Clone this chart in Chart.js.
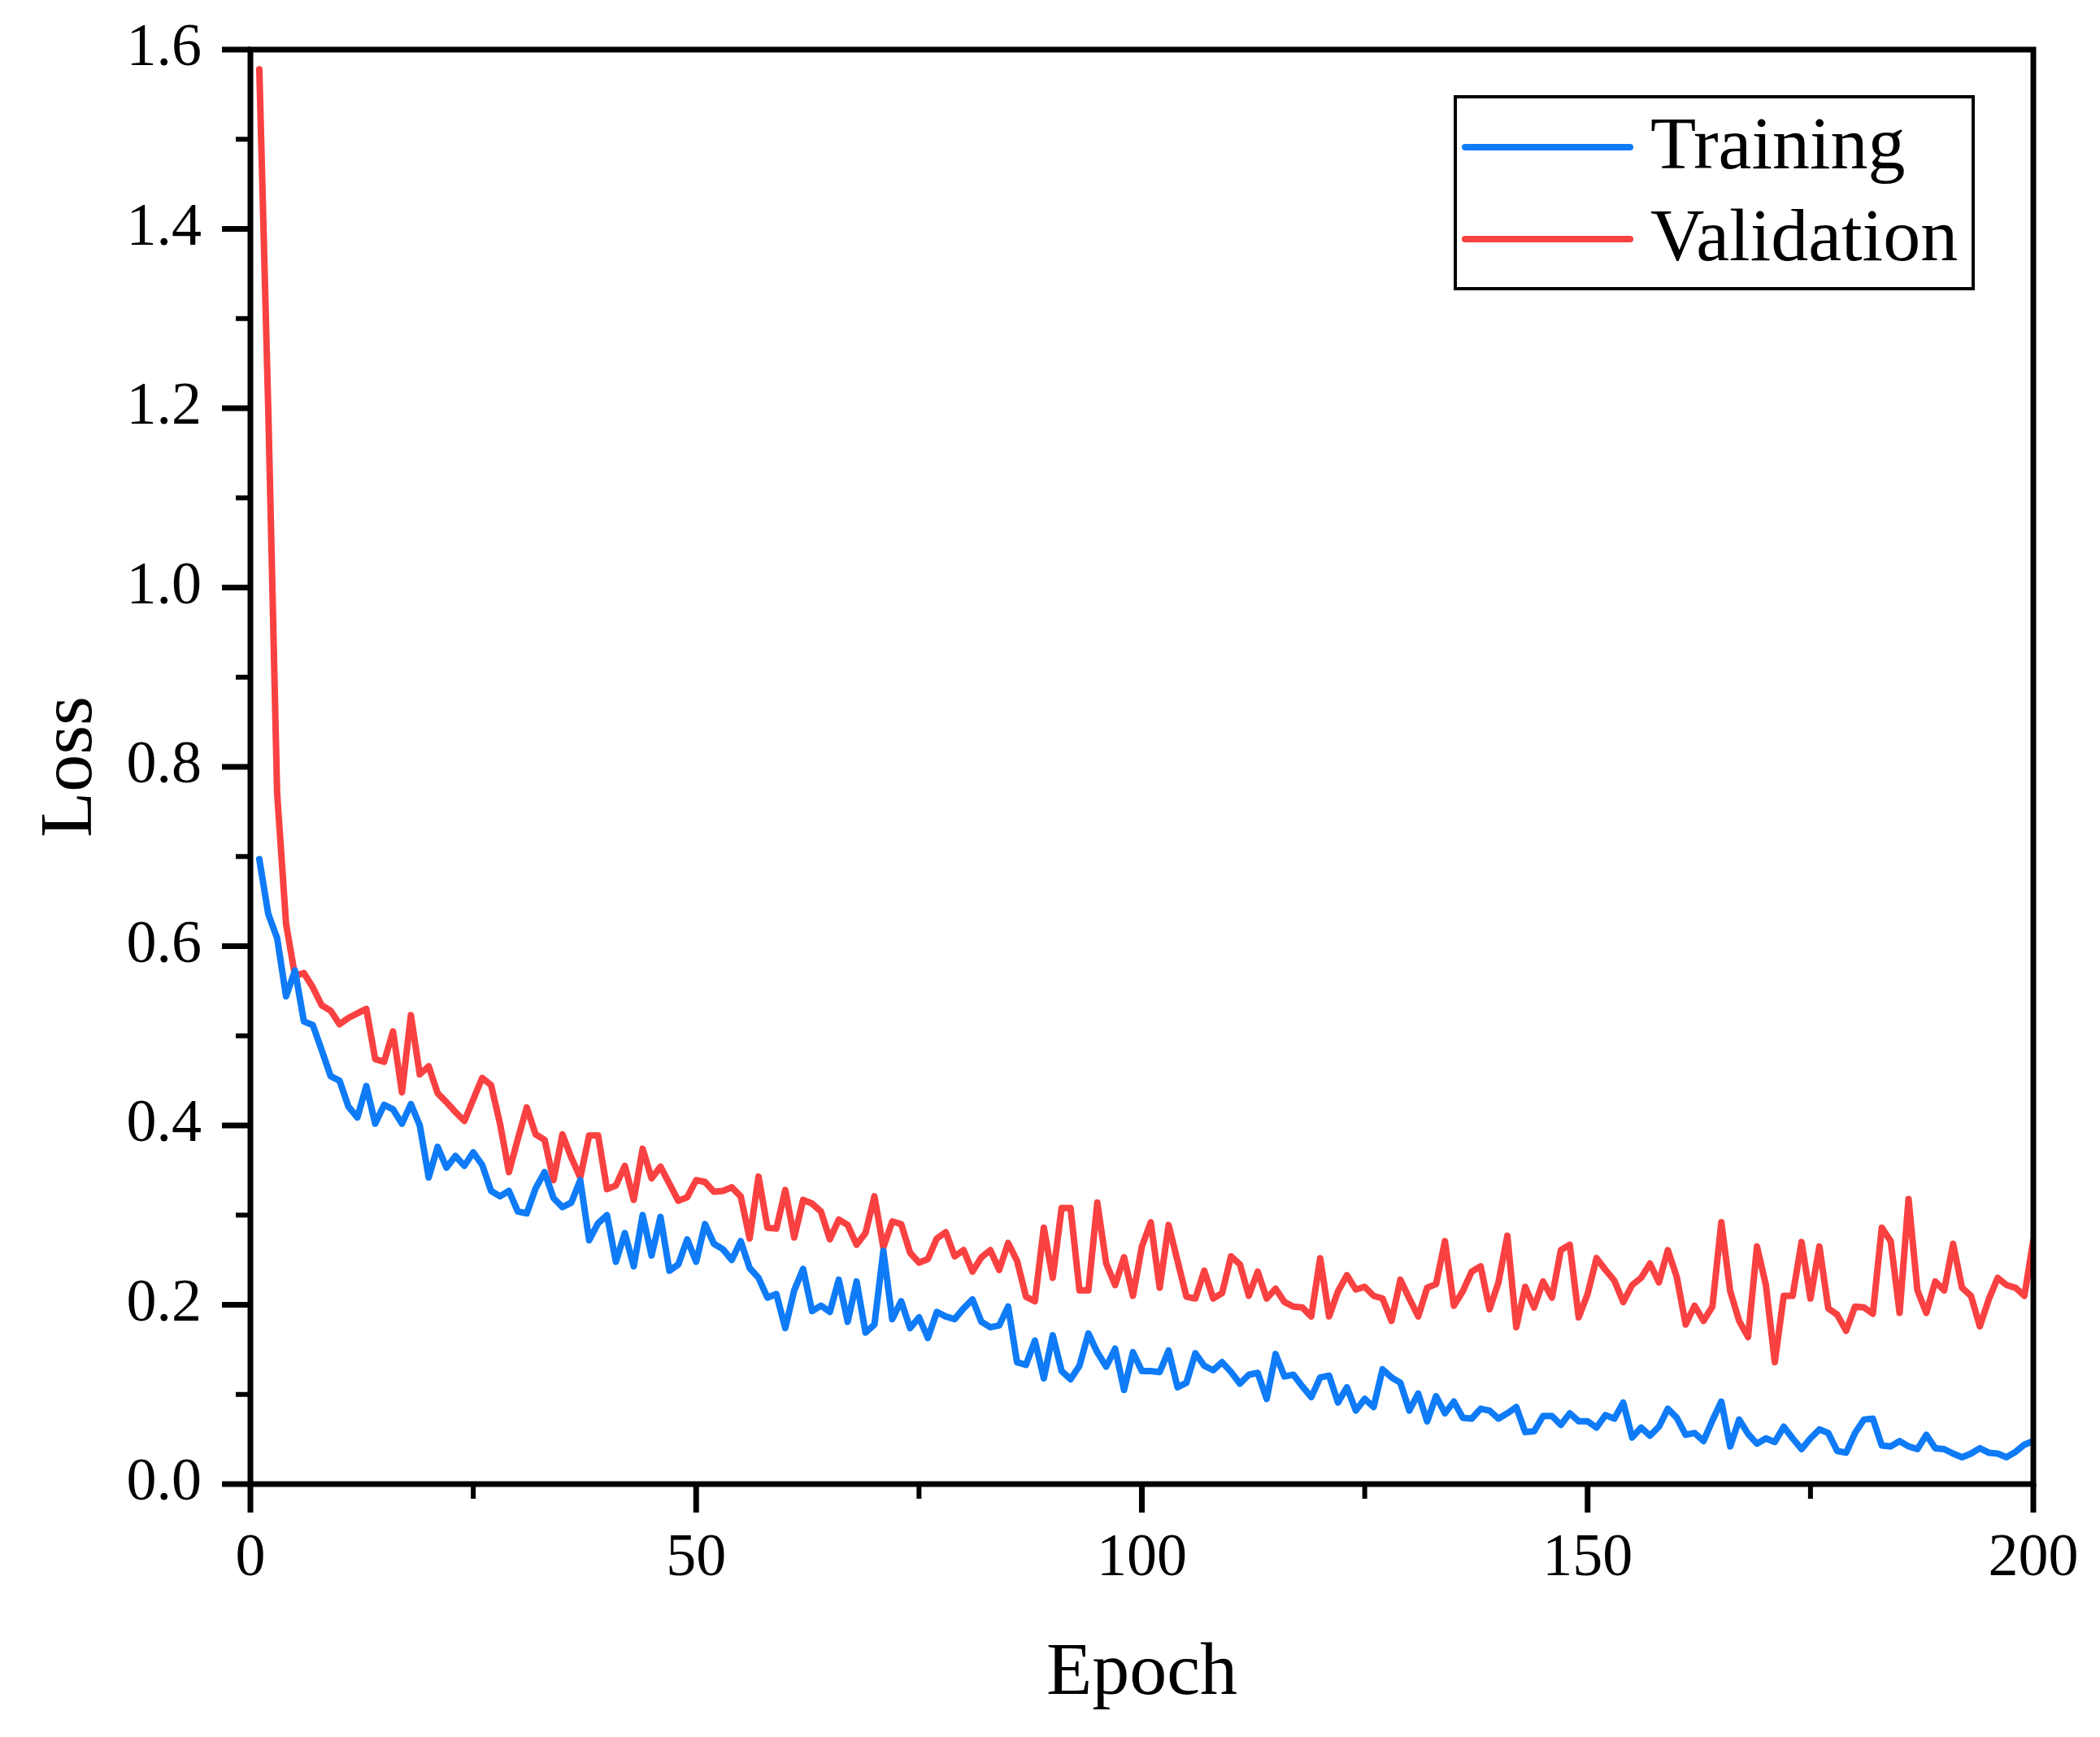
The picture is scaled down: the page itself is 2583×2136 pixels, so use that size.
<!DOCTYPE html>
<html><head><meta charset="utf-8">
<script src="https://cdn.jsdelivr.net/npm/chart.js@4.4.1/dist/chart.umd.min.js"></script>
<style>html,body{margin:0;padding:0;background:#fff;}canvas{display:block;}</style>
</head><body>
<canvas id="c" width="2583" height="2136" style="width:2583px;height:2136px"></canvas>
<script>
const epochs = Array.from({length: 200}, (_, i) => i + 1);

const training = [
0.697,0.636,0.609,0.544,0.573,0.516,0.512,0.484,0.455,0.450,
0.421,0.409,0.444,0.402,0.423,0.418,0.402,0.424,0.400,0.342,
0.376,0.353,0.366,0.355,0.370,0.356,0.327,0.321,0.327,0.304,
0.302,0.330,0.348,0.319,0.309,0.314,0.339,0.272,0.291,0.300,
0.248,0.280,0.243,0.300,0.255,0.298,0.238,0.245,0.273,0.248,
0.290,0.268,0.262,0.250,0.271,0.241,0.230,0.208,0.212,0.174,
0.216,0.240,0.193,0.199,0.192,0.228,0.181,0.226,0.169,0.178,
0.260,0.184,0.204,0.174,0.186,0.163,0.192,0.187,0.184,0.196,
0.206,0.181,0.175,0.177,0.198,0.136,0.133,0.160,0.118,0.166,
0.126,0.117,0.132,0.168,0.147,0.131,0.151,0.105,0.147,0.126,
0.126,0.125,0.149,0.108,0.113,0.146,0.132,0.127,0.136,0.125,
0.112,0.122,0.124,0.095,0.145,0.120,0.122,0.109,0.097,0.119,
0.121,0.091,0.108,0.082,0.095,0.086,0.128,0.119,0.113,0.082,
0.101,0.070,0.098,0.079,0.092,0.074,0.073,0.084,0.082,0.073,
0.079,0.086,0.058,0.059,0.076,0.076,0.066,0.079,0.070,0.070,
0.063,0.077,0.073,0.091,0.052,0.063,0.054,0.064,0.084,0.074,
0.055,0.057,0.048,0.071,0.092,0.042,0.072,0.056,0.045,0.051,
0.047,0.064,0.051,0.039,0.051,0.061,0.057,0.037,0.035,0.057,
0.072,0.073,0.043,0.042,0.048,0.042,0.039,0.055,0.040,0.039,
0.034,0.030,0.034,0.040,0.035,0.034,0.030,0.036,0.044,0.048
];

const validation = [
1.578,1.200,0.770,0.625,0.567,0.570,0.554,0.534,0.528,0.513,
0.520,0.525,0.530,0.474,0.471,0.505,0.437,0.523,0.457,0.466,
0.436,0.426,0.415,0.405,0.429,0.453,0.445,0.402,0.348,0.385,
0.420,0.390,0.384,0.339,0.390,0.364,0.342,0.389,0.389,0.329,
0.333,0.355,0.317,0.374,0.341,0.354,0.335,0.316,0.320,0.339,
0.337,0.326,0.327,0.331,0.321,0.274,0.343,0.286,0.285,0.328,
0.275,0.317,0.313,0.304,0.273,0.295,0.289,0.267,0.280,0.321,
0.264,0.293,0.290,0.258,0.247,0.251,0.274,0.281,0.254,0.261,
0.237,0.253,0.261,0.239,0.269,0.249,0.209,0.204,0.286,0.230,
0.308,0.308,0.216,0.216,0.314,0.246,0.222,0.253,0.210,0.265,
0.292,0.219,0.289,0.249,0.209,0.207,0.238,0.207,0.213,0.254,
0.245,0.210,0.237,0.207,0.218,0.203,0.198,0.197,0.187,0.252,
0.187,0.215,0.233,0.217,0.220,0.210,0.207,0.182,0.228,0.207,
0.187,0.219,0.223,0.271,0.199,0.215,0.237,0.243,0.195,0.225,
0.277,0.175,0.220,0.197,0.226,0.208,0.261,0.267,0.186,0.212,
0.252,0.239,0.227,0.203,0.222,0.230,0.246,0.225,0.261,0.231,
0.178,0.199,0.182,0.198,0.292,0.215,0.182,0.164,0.265,0.222,
0.136,0.210,0.210,0.270,0.207,0.265,0.196,0.189,0.171,0.198,
0.197,0.190,0.286,0.271,0.191,0.318,0.216,0.191,0.226,0.216,
0.268,0.219,0.210,0.176,0.206,0.230,0.222,0.219,0.210,0.272
];

const xMajorTicks = [0, 50, 100, 150, 200];
const xMinorTicks = [25, 75, 125, 175];
const yMajorTicks = [0, 0.2, 0.4, 0.6, 0.8, 1.0, 1.2, 1.4, 1.6];
const yMinorTicks = [0.1, 0.3, 0.5, 0.7, 0.9, 1.1, 1.3, 1.5];

const seriesNames = ['Training', 'Validation'];
const seriesColors = ['#0F7BF7', '#F94141'];

const FONT = "'Liberation Serif', 'Times New Roman', serif";

function noPad(s) { s.paddingTop = 0; s.paddingBottom = 0; s.paddingLeft = 0; s.paddingRight = 0; }

const framePlugin = {
  id: 'frame',
  afterDraw(chart) {
    const {ctx, chartArea: a, scales: {x, y}} = chart;
    ctx.save();
    ctx.strokeStyle = '#000';
    ctx.lineCap = 'butt';
    ctx.lineWidth = 7;
    ctx.beginPath();
    yMajorTicks.forEach(v => { const p = y.getPixelForValue(v); ctx.moveTo(a.left, p); ctx.lineTo(a.left - 35, p); });
    xMajorTicks.forEach(v => { const p = x.getPixelForValue(v); ctx.moveTo(p, a.bottom); ctx.lineTo(p, a.bottom + 35); });
    ctx.stroke();
    ctx.lineWidth = 6;
    ctx.beginPath();
    yMinorTicks.forEach(v => { const p = y.getPixelForValue(v); ctx.moveTo(a.left, p); ctx.lineTo(a.left - 18, p); });
    xMinorTicks.forEach(v => { const p = x.getPixelForValue(v); ctx.moveTo(p, a.bottom); ctx.lineTo(p, a.bottom + 18); });
    ctx.stroke();
    ctx.lineWidth = 7;
    ctx.strokeRect(a.left, a.top, a.right - a.left, a.bottom - a.top);

    // legend
    const boxL = 1790, boxT = 119, boxR = 2427, boxB = 355;
    ctx.lineWidth = 4;
    ctx.strokeRect(boxL, boxT, boxR - boxL, boxB - boxT);
    const rows = [183, 296];
    chart.data.datasets.forEach((ds, i) => {
      ctx.strokeStyle = ds.borderColor;
      ctx.lineWidth = 8;
      ctx.lineCap = 'round';
      ctx.beginPath();
      ctx.moveTo(1802, rows[i] - 2);
      ctx.lineTo(2005, rows[i] - 2);
      ctx.stroke();
      ctx.fillStyle = '#000';
      ctx.font = '92px ' + FONT;
      ctx.textAlign = 'left';
      ctx.textBaseline = 'middle';
      ctx.fillText(ds.label, 2030, rows[i]);
    });
    ctx.restore();
  }
};

new Chart(document.getElementById('c'), {
  type: 'line',
  data: {
    datasets: [
      { label: seriesNames[0], data: epochs.map((e, i) => ({x: e, y: training[i]})),
        borderColor: seriesColors[0], borderWidth: 8, pointRadius: 0, tension: 0,
        borderJoinStyle: 'round', borderCapStyle: 'round', fill: false },
      { label: seriesNames[1], data: epochs.map((e, i) => ({x: e, y: validation[i]})),
        borderColor: seriesColors[1], borderWidth: 8, pointRadius: 0, tension: 0,
        borderJoinStyle: 'round', borderCapStyle: 'round', fill: false }
    ]
  },
  options: {
    responsive: false,
    devicePixelRatio: 1,
    animation: false,
    events: [],
    layout: { padding: { left: 0, top: 61, right: 82, bottom: 0 } },
    plugins: { legend: { display: false }, tooltip: { enabled: false } },
    scales: {
      x: {
        type: 'linear', min: 0, max: 200,
        grid: { display: false, drawTicks: false },
        border: { display: false },
        afterBuildTicks: s => { s.ticks = xMajorTicks.map(v => ({value: v})); },
        afterFit: s => { s.height = 311; noPad(s); },
        ticks: { color: '#000', font: { family: FONT, size: 74 }, padding: 48, maxRotation: 0,
                 callback: v => String(v) },
        title: { display: true, text: 'Epoch', color: '#000', font: { family: FONT, size: 92 },
                 padding: { top: 0, bottom: 22 } }
      },
      y: {
        type: 'linear', min: 0, max: 1.6,
        grid: { display: false, drawTicks: false },
        border: { display: false },
        afterBuildTicks: s => { s.ticks = yMajorTicks.map(v => ({value: v})); },
        afterFit: s => { s.width = 308; noPad(s); },
        ticks: { color: '#000', font: { family: FONT, size: 74 }, padding: 60,
                 callback: v => Number(v).toFixed(1) },
        title: { display: true, text: 'Loss', color: '#000', font: { family: FONT, size: 92 },
                 padding: { top: 33, bottom: 0 } }
      }
    }
  },
  plugins: [framePlugin]
});
</script>
</body></html>
